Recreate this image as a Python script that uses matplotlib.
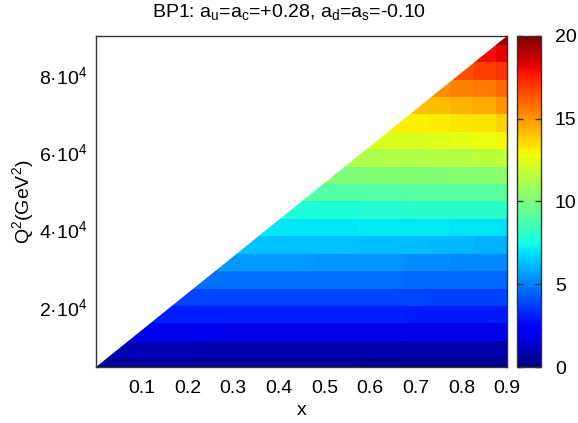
import numpy as np
import matplotlib
matplotlib.use("Agg")
import matplotlib.pyplot as plt
from matplotlib.patches import Polygon

plt.rcParams['font.family'] = ['Liberation Sans', 'DejaVu Sans']
plt.rcParams['mathtext.fontset'] = 'custom'
plt.rcParams['mathtext.rm'] = 'Liberation Sans'
plt.rcParams['mathtext.default'] = 'regular'

# grid nodes
x_nodes = [0.00, 0.05, 0.10, 0.15, 0.20, 0.25, 0.30, 0.35, 0.40, 0.45,
           0.50, 0.55, 0.60, 0.65, 0.70, 0.75, 0.80, 0.85, 0.90]
q2_nodes = [4500, 9000, 13500, 18000, 22500, 27000, 31500, 36000, 40500, 45000,
            49500, 54000, 58500, 63000, 67500, 72000, 76500, 81000, 85500, 90000]

# values, one row per Q^2 node (bottom to top)
r00 = [0.4, 0.4, 0.4, 0.4, 0.4, 0.4, 0.4, 0.4, 0.4, 0.4, 0.4, 0.4, 0.3, 0.3, 0.3, 0.3, 0.3, 0.3, 0.3]
r01 = [1.0, 1.0, 1.0, 1.0, 1.0, 0.9, 0.9, 0.9, 0.9, 0.9, 0.9, 0.9, 0.9, 0.9, 0.8, 0.8, 0.8, 0.8, 0.8]
r02 = [2.0, 2.0, 2.0, 2.0, 2.0, 2.0, 1.9, 1.9, 1.9, 1.9, 1.9, 1.9, 1.9, 1.9, 1.8, 1.8, 1.8, 1.8, 1.8]
r03 = [3.1, 3.1, 3.1, 3.1, 3.1, 3.1, 3.1, 3.1, 3.1, 3.1, 3.1, 3.1, 3.1, 3.1, 3.0, 3.0, 3.0, 3.0, 3.0]
r04 = [3.9, 3.9, 3.9, 3.9, 3.9, 3.9, 3.9, 3.9, 3.9, 3.9, 3.9, 3.9, 3.9, 3.9, 3.9, 3.8, 3.8, 3.8, 3.8]
r05 = [4.7, 4.7, 4.7, 4.7, 4.7, 4.7, 4.7, 4.7, 4.7, 4.7, 4.7, 4.7, 4.7, 4.7, 4.6, 4.6, 4.6, 4.6, 4.6]
r06 = [5.5, 5.5, 5.5, 5.5, 5.5, 5.5, 5.5, 5.5, 5.5, 5.5, 5.4, 5.4, 5.4, 5.4, 5.3, 5.3, 5.2, 5.2, 5.2]
r07 = [6.3, 6.3, 6.3, 6.3, 6.3, 6.3, 6.3, 6.3, 6.3, 6.3, 6.3, 6.3, 6.2, 6.2, 6.2, 6.1, 6.1, 6.0, 6.0]
r08 = [7.0, 7.0, 7.0, 7.0, 7.0, 7.0, 7.0, 7.0, 7.0, 7.0, 7.0, 7.0, 7.1, 7.1, 7.1, 7.1, 7.0, 7.0, 6.9]
r09 = [7.8, 7.8, 7.8, 7.8, 7.8, 7.8, 7.8, 7.8, 7.8, 7.8, 7.8, 7.8, 7.9, 7.9, 8.0, 8.0, 8.0, 8.0, 8.0]
r10 = [9.0, 9.0, 9.0, 9.0, 9.0, 9.0, 9.0, 9.0, 9.0, 9.0, 9.0, 9.0, 9.0, 9.0, 9.1, 9.1, 9.1, 9.1, 9.2]
r11 = [10.1, 10.1, 10.1, 10.1, 10.1, 10.1, 10.1, 10.1, 10.1, 10.1, 10.1, 10.1, 10.1, 10.2, 10.2, 10.2, 10.3, 10.3, 10.4]
r12 = [11.2, 11.2, 11.2, 11.2, 11.2, 11.2, 11.2, 11.2, 11.2, 11.2, 11.2, 11.2, 11.2, 11.3, 11.3, 11.4, 11.4, 11.5, 11.7]
r13 = [12.2, 12.2, 12.2, 12.2, 12.2, 12.2, 12.2, 12.2, 12.2, 12.2, 12.2, 12.2, 12.2, 12.3, 12.3, 12.4, 12.5, 12.7, 12.9]
r14 = [13.0, 13.0, 13.0, 13.0, 13.0, 13.0, 13.0, 13.0, 13.0, 13.0, 13.0, 13.0, 13.0, 13.1, 13.1, 13.2, 13.3, 13.4, 13.7]
r15 = [14.0, 14.0, 14.0, 14.0, 14.0, 14.0, 14.0, 14.0, 14.0, 14.0, 14.0, 14.0, 14.0, 14.0, 14.1, 14.2, 14.4, 14.6, 15.0]
r16 = [15.0, 15.0, 15.0, 15.0, 15.0, 15.0, 15.0, 15.0, 15.0, 15.0, 15.0, 15.0, 15.0, 15.0, 15.1, 15.2, 15.4, 15.6, 16.0]
r17 = [16.1, 16.1, 16.1, 16.1, 16.1, 16.1, 16.1, 16.1, 16.1, 16.1, 16.1, 16.1, 16.1, 16.1, 16.2, 16.3, 16.5, 16.8, 17.1]
r18 = [17.4, 17.4, 17.4, 17.4, 17.4, 17.4, 17.4, 17.4, 17.4, 17.4, 17.4, 17.4, 17.4, 17.4, 17.5, 17.6, 17.7, 17.9, 18.2]
r19 = [18.8, 18.8, 18.8, 18.8, 18.8, 18.8, 18.8, 18.8, 18.8, 18.8, 18.8, 18.8, 18.8, 18.8, 18.8, 18.9, 19.0, 19.3, 19.6]

values = np.array([r00, r01, r02, r03, r04, r05, r06, r07, r08, r09,
                   r10, r11, r12, r13, r14, r15, r16, r17, r18, r19])

x_ticks = [0.1, 0.2, 0.3, 0.4, 0.5, 0.6, 0.7, 0.8, 0.9]
y_ticks = [20000, 40000, 60000, 80000]
y_ticklabels = ['2·10$^4$', '4·10$^4$', '6·10$^4$', '8·10$^4$']
cb_ticks = [0, 5, 10, 15, 20]

fs = 14

fig = plt.figure(figsize=(5.78, 4.23), dpi=100)
ax = fig.add_axes([96/578, 1 - 367/423, 411/578, 331/423])

mesh = ax.pcolormesh(x_nodes, q2_nodes, values, cmap='jet', vmin=0, vmax=20,
                     shading='nearest')
ax.set_xlim(x_nodes[0], x_nodes[-1])
ax.set_ylim(q2_nodes[0], q2_nodes[-1])

# kinematically forbidden region (upper-left half of the box) left blank
ax.add_patch(Polygon([(0, 0), (1, 1), (0, 1)], closed=True, transform=ax.transAxes,
                     facecolor='white', edgecolor='none', zorder=3))

ax.set_xticks(x_ticks)
ax.set_xticklabels([f'{t:.1f}' for t in x_ticks])
ax.set_yticks(y_ticks)
ax.set_yticklabels(y_ticklabels)
ax.tick_params(length=0, labelsize=fs)
ax.tick_params(axis='x', pad=9)
ax.tick_params(axis='y', pad=6)
for s in ax.spines.values():
    s.set_linewidth(1.0)
    s.set_color('#333333')
    s.set_zorder(4)

ax.set_xlabel('x', fontsize=fs)
ax.xaxis.set_label_coords(0.5, -0.105)
ax.set_ylabel('Q$^2$(GeV$^2$)', fontsize=fs)
ax.yaxis.set_label_coords(-0.145, 0.5)

fig.text(0.5, 1 - 12/423, 'BP1: a$_u$=a$_c$=+0.28, a$_d$=a$_s$=-0.10',
         ha='center', va='center', fontsize=fs)

cax = fig.add_axes([517/578, 1 - 367/423, 24/578, 331/423])
cb = fig.colorbar(mesh, cax=cax, ticks=cb_ticks)
cb.outline.set_linewidth(1.0)
cb.outline.set_edgecolor('#333333')
cax.tick_params(labelsize=fs, direction='in', length=4, width=1, color='#333333',
                left=True, right=True, pad=10)

fig.savefig('out.png', dpi=100)
